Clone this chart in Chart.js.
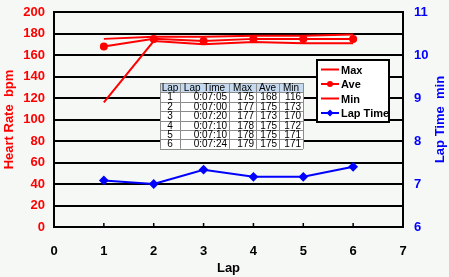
<!DOCTYPE html>
<html>
<head>
<meta charset="utf-8">
<script src="https://cdn.jsdelivr.net/npm/chart.js@4"></script>
<style>
  html, body { margin: 0; padding: 0; background: #f5f8f5; }
  #wrap { width: 449px; height: 277px; }
</style>
</head>
<body>
<div id="wrap"><canvas id="grafico" width="449" height="277"></canvas></div>
<script>
const laps = [1, 2, 3, 4, 5, 6];
const lapTimes = ['0:07:05', '0:07:00', '0:07:20', '0:07:10', '0:07:10', '0:07:24'];
const maxHR = [175, 177, 177, 178, 178, 179];
const aveHR = [168, 175, 173, 175, 175, 175];
const minHR = [116, 173, 170, 172, 171, 171];
const hrTicks = [0, 20, 40, 60, 80, 100, 120, 140, 160, 180, 200];
const lapTicks = [0, 1, 2, 3, 4, 5, 6, 7];
const timeTicks = [6, 7, 8, 9, 10, 11];

const fuente = 'Liberation Sans, Arial, sans-serif';

function aMinutos(t) {
    const p = t.split(':').map(Number);
    return p[0] * 60 + p[1] + p[2] / 60;
}

function puntos(valores) {
    return laps.map((x, i) => ({ x, y: valores[i] }));
}

function sinRelleno(s) {
    s.paddingTop = 0;
    s.paddingBottom = 0;
}

// tabla, leyenda y titulo derecho dibujados encima del grafico
const extras = {
    id: 'extras',
    afterDraw(chart) {
        const ctx = chart.ctx;
        const xs = chart.scales.x;
        const area = chart.chartArea;
        ctx.save();

        // marcas del eje x hacia dentro
        ctx.strokeStyle = '#000';
        ctx.lineWidth = 1.5;
        lapTicks.slice(1, -1).forEach(v => {
            const px = xs.getPixelForValue(v);
            ctx.beginPath();
            ctx.moveTo(px, area.bottom);
            ctx.lineTo(px, area.bottom - 4);
            ctx.stroke();
        });

        // titulo del eje derecho, leido de abajo hacia arriba
        ctx.save();
        ctx.translate(440, (area.top + area.bottom) / 2);
        ctx.rotate(-Math.PI / 2);
        ctx.font = 'bold 13px ' + fuente;
        ctx.fillStyle = '#0000ff';
        ctx.textAlign = 'center';
        ctx.textBaseline = 'middle';
        ctx.fillText('Lap Time  min', 0, 0);
        ctx.restore();

        // tabla
        const cols = [
            { head: 'Lap', w: 20, vals: laps, align: 'center' },
            { head: 'Lap Time', w: 49, vals: lapTimes, align: 'right' },
            { head: 'Max', w: 27, vals: maxHR, align: 'right' },
            { head: 'Ave', w: 23, vals: aveHR, align: 'right' },
            { head: 'Min', w: 24, vals: minHR, align: 'right' }
        ];
        const tx = 160, ty = 83, rh = 9.4;
        const tw = cols.reduce((s, c) => s + c.w, 0);
        ctx.fillStyle = '#fff';
        ctx.fillRect(tx, ty, tw, rh * 7);
        ctx.fillStyle = '#c5daef';
        ctx.fillRect(tx, ty, tw, rh);
        ctx.strokeStyle = '#8c8c8c';
        ctx.lineWidth = 1;
        for (let r = 0; r <= 7; r++) {
            ctx.beginPath();
            ctx.moveTo(tx, Math.round(ty + r * rh) + 0.5);
            ctx.lineTo(tx + tw, Math.round(ty + r * rh) + 0.5);
            ctx.stroke();
        }
        let cx = tx;
        ctx.font = '10px ' + fuente;
        ctx.fillStyle = '#000';
        ctx.textBaseline = 'middle';
        cols.forEach(c => {
            ctx.beginPath();
            ctx.moveTo(Math.round(cx) + 0.5, ty);
            ctx.lineTo(Math.round(cx) + 0.5, ty + rh * 7);
            ctx.stroke();
            ctx.textAlign = 'center';
            ctx.fillText(c.head, cx + c.w / 2, ty + rh / 2 + 0.5);
            c.vals.forEach((v, i) => {
                const yy = ty + rh * (i + 1) + rh / 2 + 0.5;
                if (c.align === 'center') {
                    ctx.textAlign = 'center';
                    ctx.fillText(String(v), cx + c.w / 2, yy);
                } else {
                    ctx.textAlign = 'right';
                    ctx.fillText(String(v), cx + c.w - 2, yy);
                }
            });
            cx += c.w;
        });
        ctx.beginPath();
        ctx.moveTo(Math.round(cx) + 0.5, ty);
        ctx.lineTo(Math.round(cx) + 0.5, ty + rh * 7);
        ctx.stroke();

        // leyenda
        const lx = 317, ly = 60, lw = 72, lh = 62;
        ctx.fillStyle = '#fff';
        ctx.fillRect(lx, ly, lw, lh);
        ctx.strokeStyle = '#000';
        ctx.lineWidth = 2;
        ctx.strokeRect(lx, ly, lw, lh);
        ctx.font = 'bold 11px ' + fuente;
        ctx.textAlign = 'left';
        chart.data.datasets.forEach((ds, i) => {
            const yy = ly + 9.5 + i * 14.5;
            ctx.strokeStyle = ds.borderColor;
            ctx.lineWidth = 2;
            ctx.beginPath();
            ctx.moveTo(lx + 4, yy);
            ctx.lineTo(lx + 22, yy);
            ctx.stroke();
            if (ds.pointRadius > 0) {
                ctx.fillStyle = ds.borderColor;
                ctx.beginPath();
                if (ds.pointStyle === 'rectRot') {
                    ctx.moveTo(lx + 13, yy - 3.5);
                    ctx.lineTo(lx + 16.5, yy);
                    ctx.lineTo(lx + 13, yy + 3.5);
                    ctx.lineTo(lx + 9.5, yy);
                } else {
                    ctx.arc(lx + 13, yy, 3, 0, Math.PI * 2);
                }
                ctx.fill();
            }
            ctx.fillStyle = '#000';
            ctx.fillText(ds.label, lx + 24, yy + 1);
        });
        ctx.restore();
    }
};

const config = {
    type: 'line',
    data: {
        datasets: [
            { label: 'Max', data: puntos(maxHR), borderColor: '#ff0000', backgroundColor: '#ff0000', borderWidth: 2, pointRadius: 0, yAxisID: 'y' },
            { label: 'Ave', data: puntos(aveHR), borderColor: '#ff0000', backgroundColor: '#ff0000', borderWidth: 2, pointRadius: 3, pointStyle: 'circle', yAxisID: 'y' },
            { label: 'Min', data: puntos(minHR), borderColor: '#ff0000', backgroundColor: '#ff0000', borderWidth: 2, pointRadius: 0, yAxisID: 'y' },
            { label: 'Lap Time', data: puntos(lapTimes.map(aMinutos)), borderColor: '#0000ff', backgroundColor: '#0000ff', borderWidth: 2, pointRadius: 3.5, pointStyle: 'rectRot', yAxisID: 'y1' }
        ]
    },
    options: {
        responsive: false,
        animation: false,
        layout: { padding: { top: 12 } },
        plugins: { legend: { display: false }, tooltip: { enabled: false } },
        scales: {
            x: {
                type: 'linear', min: 0, max: 7,
                afterBuildTicks: s => { s.ticks = lapTicks.map(v => ({ value: v })); },
                afterFit: s => { s.height = 50; },
                grid: { display: false },
                border: { color: '#000', width: 2 },
                ticks: { color: '#000', font: { family: fuente, size: 13, weight: 'bold' }, padding: 9 },
                title: { display: true, text: 'Lap', color: '#000', font: { family: fuente, size: 13, weight: 'bold' }, padding: { top: 0, bottom: 1 } }
            },
            y: {
                position: 'left', min: 0, max: 200,
                afterBuildTicks: s => { s.ticks = hrTicks.map(v => ({ value: v })); },
                afterFit: s => { s.width = 54; sinRelleno(s); },
                grid: { color: '#000', lineWidth: 2, drawTicks: false },
                border: { color: '#000', width: 2 },
                ticks: { color: '#ff0000', font: { family: fuente, size: 13, weight: 'bold' }, padding: 9 },
                title: { display: true, text: 'Heart Rate  bpm', color: '#ff0000', font: { family: fuente, size: 13, weight: 'bold' }, padding: { top: 2, bottom: 0 } }
            },
            y1: {
                position: 'right', min: 6, max: 11,
                afterBuildTicks: s => { s.ticks = timeTicks.map(v => ({ value: v })); },
                afterFit: s => { s.width = 46; sinRelleno(s); },
                grid: { drawOnChartArea: false, drawTicks: false },
                border: { color: '#000', width: 2 },
                ticks: { color: '#0000ff', font: { family: fuente, size: 13, weight: 'bold' }, padding: 11 }
            }
        }
    },
    plugins: [extras]
};

document.addEventListener('DOMContentLoaded', () => {
    const ctx = document.getElementById('grafico').getContext('2d');
    new Chart(ctx, config);
});
</script>
</body>
</html>
